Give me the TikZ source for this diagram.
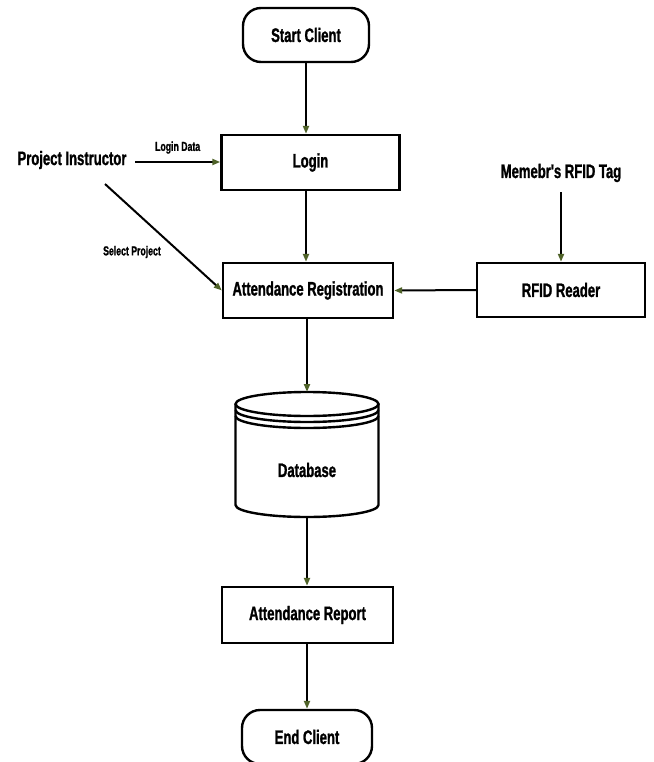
\documentclass[tikz,border=0pt]{standalone}
\usepackage{fontspec}
\setmainfont[FakeStretch=0.67, FakeBold=1.2, Ligatures=TeXOff]{Liberation Sans}
\usetikzlibrary{arrows.meta}
\definecolor{tipgreen}{HTML}{4F6228}
\tikzset{
  conn/.style={line width=2pt, draw=black, -{Triangle[length=8pt,width=6pt,color=tipgreen]}},
  boxst/.style={draw=black, line width=2.4pt, fill=white, inner sep=0pt},
  bigtxt/.style={font=\bfseries\fontsize{19.5}{22}\selectfont},
  smalltxt/.style={font=\bfseries\fontsize{13}{15}\selectfont},
}
\begin{document}
\begin{tikzpicture}[x=1pt,y=-1pt]
\useasboundingbox (0,0) rectangle (653,762);
% terminals
\node[boxst, bigtxt, rounded corners=18pt, minimum width=126pt, minimum height=54pt] (start) at (306,35) {Start Client};
\node[boxst, bigtxt, rounded corners=18pt, minimum width=130pt, minimum height=54pt] (end) at (307,737) {End Client};
% process boxes
\node[boxst, bigtxt, minimum width=178pt, minimum height=55pt] (login) at (310.5,162.5) {Login};
\node[boxst, bigtxt, minimum width=170pt, minimum height=55pt] (att) at (308,290.5) {Attendance Registration};
\node[boxst, bigtxt, minimum width=168pt, minimum height=54pt] (rfid) at (561,290) {RFID Reader};
\node[boxst, bigtxt, minimum width=171pt, minimum height=56pt] (rep) at (307.5,615) {Attendance Report};
% free texts
\node[bigtxt, inner sep=1pt] (pi) at (72,160) {Project Instructor};
\node[bigtxt, inner sep=1pt] (tag) at (561,173) {Memebr's RFID Tag};
% database cylinder
\coordinate (dbtop) at (307,392);
\coordinate (dbbot) at (307,517);
\begin{scope}[line width=2.4pt]
  \draw[fill=white] (235.5,404) -- (235.5,505) arc[start angle=180,end angle=0,x radius=71.5,y radius=12] -- (378.5,404);
  \draw[fill=white] (307,404) ellipse[x radius=71.5,y radius=12];
  \draw (235.5,410) arc[start angle=180,end angle=0,x radius=71.5,y radius=12];
  \draw (235.5,416) arc[start angle=180,end angle=0,x radius=71.5,y radius=12];
\end{scope}
\node[bigtxt] (db) at (307,470) {Database};
% connectors
\coordinate (piE) at (135,162);
\coordinate (piS) at (105,184);
\coordinate (tagS) at (561,192);
\draw[conn] (start.south) -- (start.south |- login.north);
\draw[conn] (piE) -- (piE -| login.west) node[midway, above=4pt, smalltxt] (ld) {Login Data};
\draw[conn] (piS) -- (att.west);
\node[smalltxt] (splabel) at (132,252) {Select Project};
\draw[conn] (start.south |- login.south) -- (start.south |- att.north);
\draw[conn] (tagS) -- (tagS |- rfid.north);
\draw[conn] (rfid.west) -- (att.east);
\draw[conn] (dbtop |- att.south) -- (dbtop);
\draw[conn] (dbbot) -- (dbbot |- rep.north);
\draw[conn] (dbbot |- rep.south) -- (dbbot |- end.north);
\end{tikzpicture}
\end{document}
